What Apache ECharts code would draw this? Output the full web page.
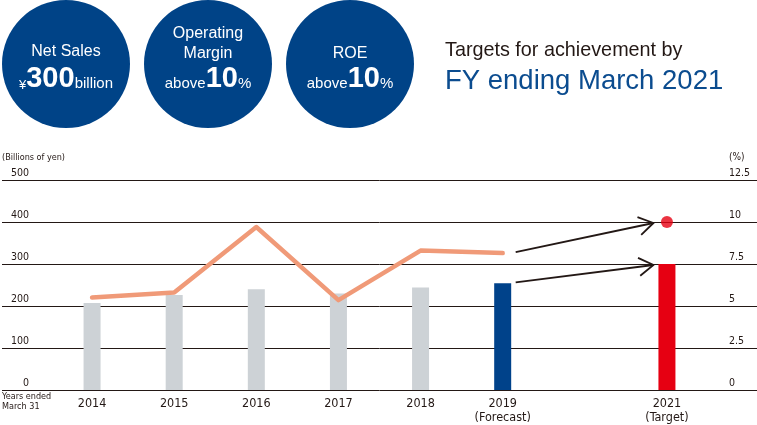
<!DOCTYPE html>
<html>
<head>
<meta charset="utf-8">
<script src="https://cdn.jsdelivr.net/npm/echarts@6/dist/echarts.min.js"></script>
<style>html,body{margin:0;padding:0;background:#fff}#c{width:757px;height:425px}</style>
</head>
<body>
<div id="c"></div>
<script>
// ---- data ----
var categories = ['2014', '2015', '2016', '2017', '2018', '2019', '2020', '2021'];
var categoryNotes = ['', '', '', '', '', '(Forecast)', '', '(Target)'];
var hiddenCategories = ['2020'];
var netSales = [207, 226, 240, 230, 244, 254, null, 300];          // billions of yen
var roe = [5.5, 5.8, 9.7, 5.35, 8.3, 8.15, null, null];            // %
var roeTarget = [null, null, null, null, null, null, null, 10];   // %
var leftTicks = { min: 0, max: 500, interval: 100 };
var rightTicks = { min: 0, max: 12.5, interval: 2.5 };

var NARROW = "'Liberation Sans Narrow','DejaVu Sans Condensed','Roboto Condensed',sans-serif";
var SANS = "'Liberation Sans',Arial,Helvetica,sans-serif";
var INK = '#231815';
var GREY = '#cdd2d6', BLUE = '#00428a', RED = '#e60012', ORANGE = '#f09a78', CIRCLE = '#004387';

var chart = echarts.init(document.getElementById('c'));

function barColor(i) {
  if (categoryNotes[i] === '(Target)') return RED;
  if (categoryNotes[i] === '(Forecast)') return BLUE;
  return GREY;
}

var option = {
  animation: false,
  grid: [
    { left: 2, right: 0, top: 180, bottom: 35 },
    { left: 51, right: 49, top: 180, bottom: 35 }
  ],
  xAxis: [
    { type: 'value', gridIndex: 0, min: 0, max: 1, show: false },
    {
      type: 'category', gridIndex: 1, data: categories,
      axisLine: { show: false }, axisTick: { show: false },
      axisLabel: {
        interval: 0, margin: 7, color: INK, fontFamily: NARROW, fontSize: 12.5, lineHeight: 14,
        formatter: function (v, i) {
          if (hiddenCategories.indexOf(v) >= 0) return '';
          return categoryNotes[i] ? v + '\n' + categoryNotes[i] : v;
        }
      }
    }
  ],
  yAxis: [
    {
      type: 'value', gridIndex: 0, position: 'left',
      min: leftTicks.min, max: leftTicks.max, interval: leftTicks.interval,
      axisLine: { show: false }, axisTick: { show: false },
      splitLine: { show: true, lineStyle: { color: INK, width: 1 } },
      axisLabel: { inside: true, align: 'right', verticalAlign: 'bottom', margin: 27,
        color: INK, fontFamily: NARROW, fontSize: 10.5, padding: [0, 0, 1, 0] }
    },
    {
      type: 'value', gridIndex: 0, position: 'right',
      min: rightTicks.min, max: rightTicks.max, interval: rightTicks.interval,
      axisLine: { show: false }, axisTick: { show: false }, splitLine: { show: false },
      axisLabel: { inside: true, align: 'left', verticalAlign: 'bottom', margin: 28,
        color: INK, fontFamily: NARROW, fontSize: 10.5, padding: [0, 0, 1, 0] }
    },
    { type: 'value', gridIndex: 1, position: 'left', show: false,
      min: leftTicks.min, max: leftTicks.max, interval: leftTicks.interval, splitLine: { show: false } },
    { type: 'value', gridIndex: 1, position: 'right', show: false,
      min: rightTicks.min, max: rightTicks.max, interval: rightTicks.interval, splitLine: { show: false } }
  ],
  series: [
    {
      type: 'bar', xAxisIndex: 1, yAxisIndex: 2, barWidth: 17,
      data: netSales.map(function (v, i) { return { value: v, itemStyle: { color: barColor(i) } }; })
    },
    {
      type: 'line', xAxisIndex: 1, yAxisIndex: 3, data: roe, symbol: 'none',
      lineStyle: { color: ORANGE, width: 4.5, cap: 'round', join: 'round' }, z: 3
    },
    {
      type: 'scatter', xAxisIndex: 1, yAxisIndex: 3, data: roeTarget, symbolSize: 12,
      itemStyle: { color: RED }, z: 4
    }
  ]
};
chart.setOption(option);

// ---- annotations: circles, titles, arrows ----
var g = [];
var circleCenters = [66, 208, 350];
circleCenters.forEach(function (cx) {
  g.push({ type: 'circle', shape: { cx: cx, cy: 64, r: 64 }, style: { fill: CIRCLE }, z: 1 });
});
var richBig = {
  s: { fontFamily: SANS, fontSize: 15, fill: '#fff', verticalAlign: 'bottom', padding: [0, 0, 2, 0] },
  y: { fontFamily: SANS, fontSize: 13, fill: '#fff', verticalAlign: 'bottom', padding: [0, 0, 2, 0] },
  b: { fontFamily: SANS, fontSize: 29, fontWeight: 'bold', fill: '#fff', verticalAlign: 'bottom' }
};
function txt(x, y, text, size, extra) {
  var st = { text: text, x: x, y: y, fill: '#fff', font: (extra || '') + ' ' + size + 'px ' + SANS,
    align: 'center', verticalAlign: 'middle' };
  return { type: 'text', z: 5, style: st };
}
g.push(txt(66, 52, 'Net Sales', 16));
g.push({ type: 'text', z: 5, style: { text: '{y|¥}{b|300}{s|billion}', x: 66, y: 79, rich: richBig,
  align: 'center', verticalAlign: 'middle' } });
g.push(txt(208, 34, 'Operating', 16));
g.push(txt(208, 54, 'Margin', 16));
g.push({ type: 'text', z: 5, style: { text: '{s|above}{b|10}{s|%}', x: 208, y: 79, rich: richBig,
  align: 'center', verticalAlign: 'middle' } });
g.push(txt(350, 54, 'ROE', 16));
g.push({ type: 'text', z: 5, style: { text: '{s|above}{b|10}{s|%}', x: 350, y: 79, rich: richBig,
  align: 'center', verticalAlign: 'middle' } });

g.push({ type: 'text', z: 5, style: { text: 'Targets for achievement by', x: 445, y: 51,
  font: '19.8px ' + SANS, fill: INK, align: 'left', verticalAlign: 'middle' } });
g.push({ type: 'text', z: 5, style: { text: 'FY ending March 2021', x: 445, y: 81,
  font: '27.5px ' + SANS, fill: '#0b4c8f', align: 'left', verticalAlign: 'middle' } });

g.push({ type: 'text', z: 5, style: { text: '(Billions of yen)', x: 2, y: 158,
  font: '9px ' + NARROW, fill: INK, align: 'left', verticalAlign: 'middle' } });
g.push({ type: 'text', z: 5, style: { text: '(%)', x: 729, y: 157,
  font: '10px ' + NARROW, fill: INK, align: 'left', verticalAlign: 'middle' } });
g.push({ type: 'text', z: 5, style: { text: 'Years ended\nMarch 31', x: 2, y: 392,
  font: '9px ' + NARROW, lineHeight: 9.5, fill: INK, align: 'left', verticalAlign: 'top' } });

function px(cat, val, yIdx) {
  return chart.convertToPixel({ xAxisIndex: 1, yAxisIndex: yIdx }, [cat, val]);
}
function arrow(from, to) {
  var a = [from[0] + 13, from[1] - 1];
  var b = [to[0] - 13.5, to[1] + 1];
  var ang = Math.atan2(a[1] - b[1], a[0] - b[0]);
  var L = 17, h = 32 * Math.PI / 180;
  var p1 = [b[0] + L * Math.cos(ang - h), b[1] + L * Math.sin(ang - h)];
  var p2 = [b[0] + L * Math.cos(ang + h), b[1] + L * Math.sin(ang + h)];
  g.push({ type: 'line', z: 6, shape: { x1: a[0], y1: a[1], x2: b[0], y2: b[1] },
    style: { stroke: INK, lineWidth: 1.8 } });
  g.push({ type: 'polyline', z: 6, shape: { points: [p1, b, p2] },
    style: { stroke: INK, lineWidth: 1.8, fill: null } });
}
var iF = categoryNotes.indexOf('(Forecast)'), iT = categoryNotes.indexOf('(Target)');
arrow(px(categories[iF], roe[iF], 3), px(categories[iT], roeTarget[iT], 3));
arrow(px(categories[iF], netSales[iF], 2), px(categories[iT], netSales[iT], 2));

chart.setOption({ graphic: g });
</script>
</body>
</html>
